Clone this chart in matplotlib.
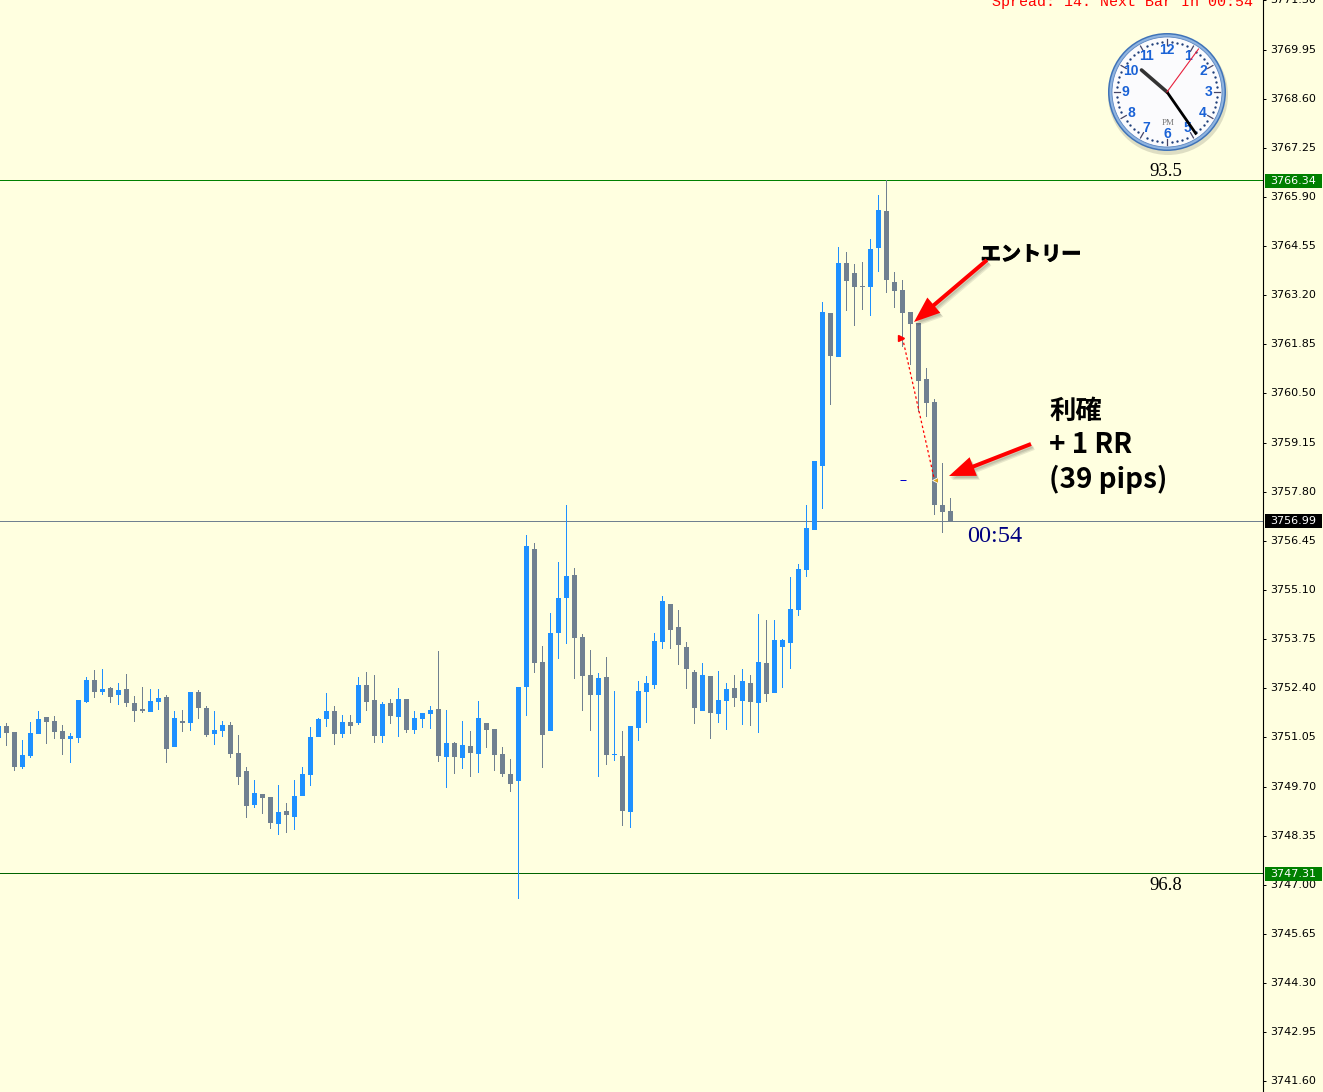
import numpy as np
import matplotlib
matplotlib.use('Agg')
import matplotlib.pyplot as plt
import matplotlib.patheffects as pe
from matplotlib.patches import Circle, Polygon, Rectangle
from matplotlib.transforms import blended_transform_factory, ScaledTranslation

plt.rcParams['font.family'] = ['Noto Sans CJK JP', 'DejaVu Sans']

# ohlc, oldest candle first
highs = [3751.36, 3751.44, 3751.20, 3750.98, 3751.47, 3751.77, 3751.61, 3751.64, 3751.39, 3751.17,
         3752.08, 3752.71, 3752.90, 3752.93, 3752.43, 3752.54, 3752.79, 3752.19, 3752.43, 3752.38,
         3752.38, 3752.21, 3751.77, 3751.80, 3752.30, 3752.35, 3751.91, 3751.77, 3751.50, 3751.47,
         3751.11, 3750.23, 3749.88, 3749.49, 3749.42, 3749.75, 3749.25, 3749.88, 3750.24, 3751.34,
         3751.59, 3752.27, 3751.92, 3751.67, 3751.67, 3752.71, 3752.85, 3752.77, 3752.03, 3752.11,
         3752.41, 3752.11, 3751.78, 3751.72, 3751.92, 3753.43, 3751.81, 3750.93, 3751.50, 3751.23,
         3752.05, 3751.45, 3751.28, 3750.79, 3750.46, 3752.44, 3756.61, 3756.39, 3753.56, 3754.46,
         3755.87, 3757.43, 3755.70, 3753.89, 3753.45, 3752.82, 3753.26, 3752.32, 3751.22, 3751.36,
         3752.60, 3752.73, 3753.92, 3754.93, 3754.71, 3754.55, 3753.67, 3752.90, 3753.09, 3752.73,
         3752.87, 3752.54, 3752.76, 3752.93, 3752.76, 3754.44, 3754.27, 3754.27, 3753.75, 3755.45,
         3755.81, 3757.43, 3758.64, 3763.01, 3762.71, 3764.52, 3764.38, 3764.05, 3764.11, 3764.74,
         3765.95, 3766.36, 3763.83, 3763.61, 3762.74, 3762.43, 3761.20, 3760.34, 3758.59, 3757.62]
lows = [3751.03, 3750.81, 3750.12, 3750.18, 3750.48, 3751.14, 3750.87, 3751.00, 3750.56, 3750.34,
        3750.89, 3751.99, 3752.13, 3752.21, 3751.99, 3751.94, 3751.88, 3751.47, 3751.72, 3751.75,
        3751.80, 3750.34, 3750.78, 3751.20, 3751.22, 3751.55, 3751.06, 3750.84, 3751.06, 3750.48,
        3749.74, 3748.83, 3749.11, 3748.94, 3748.54, 3748.37, 3748.43, 3748.51, 3749.44, 3749.72,
        3751.06, 3751.34, 3750.84, 3751.04, 3751.15, 3751.39, 3751.78, 3750.90, 3750.90, 3751.42,
        3751.06, 3751.17, 3751.15, 3751.31, 3751.28, 3750.38, 3749.66, 3750.05, 3750.19, 3749.97,
        3750.08, 3750.76, 3750.13, 3749.97, 3749.55, 3746.61, 3751.63, 3752.82, 3750.21, 3751.22,
        3753.20, 3753.61, 3752.65, 3751.77, 3751.22, 3749.96, 3750.29, 3750.40, 3748.61, 3748.56,
        3750.95, 3751.44, 3752.38, 3753.48, 3753.48, 3753.04, 3752.38, 3751.41, 3751.77, 3751.00,
        3751.44, 3751.25, 3751.88, 3751.39, 3751.36, 3751.17, 3752.02, 3752.27, 3752.40, 3752.93,
        3754.38, 3755.45, 3756.74, 3757.32, 3760.18, 3761.50, 3762.76, 3762.35, 3762.79, 3762.63,
        3763.83, 3763.26, 3762.85, 3761.77, 3761.28, 3759.99, 3759.85, 3757.16, 3756.66, 3757.01]
opens = [3751.03, 3751.36, 3751.20, 3750.23, 3750.54, 3751.14, 3751.61, 3751.50, 3751.22, 3751.00,
         3751.03, 3752.02, 3752.63, 3752.30, 3752.41, 3752.21, 3752.38, 3751.99, 3751.83, 3751.75,
         3752.02, 3752.16, 3750.78, 3751.50, 3751.44, 3752.30, 3751.86, 3751.14, 3751.22, 3751.39,
         3750.62, 3750.12, 3749.19, 3749.49, 3749.42, 3748.67, 3749.03, 3748.87, 3749.44, 3750.02,
         3751.06, 3751.56, 3751.78, 3751.15, 3751.48, 3751.45, 3752.49, 3752.08, 3751.09, 3752.00,
         3751.61, 3752.11, 3751.26, 3751.56, 3751.70, 3751.83, 3750.51, 3750.90, 3750.49, 3750.82,
         3750.60, 3751.45, 3751.28, 3750.60, 3750.05, 3749.86, 3752.43, 3756.22, 3753.12, 3751.22,
         3753.92, 3754.88, 3755.51, 3753.81, 3752.76, 3752.21, 3752.71, 3750.56, 3750.54, 3749.00,
         3751.30, 3752.29, 3752.49, 3753.67, 3754.71, 3754.08, 3753.53, 3752.84, 3751.77, 3752.73,
         3751.69, 3752.05, 3752.40, 3752.05, 3752.54, 3751.99, 3753.09, 3752.27, 3753.53, 3753.64,
         3754.55, 3755.65, 3756.74, 3758.50, 3762.71, 3761.50, 3764.08, 3763.81, 3763.45, 3763.42,
         3764.49, 3765.51, 3763.56, 3763.34, 3762.74, 3762.43, 3760.89, 3760.26, 3757.43, 3757.27]
closes = [3751.36, 3751.17, 3750.23, 3750.56, 3751.17, 3751.55, 3751.47, 3751.20, 3751.00, 3751.09,
          3752.08, 3752.63, 3752.30, 3752.38, 3752.16, 3752.35, 3751.99, 3751.77, 3751.77, 3752.05,
          3752.13, 3750.73, 3751.58, 3751.44, 3752.30, 3751.86, 3751.11, 3751.25, 3751.39, 3750.59,
          3749.96, 3749.16, 3749.52, 3749.38, 3748.70, 3749.00, 3748.92, 3749.44, 3750.05, 3751.06,
          3751.56, 3751.78, 3751.15, 3751.48, 3751.37, 3752.49, 3752.03, 3751.09, 3751.97, 3751.64,
          3752.11, 3751.26, 3751.59, 3751.72, 3751.81, 3750.54, 3750.90, 3750.51, 3750.84, 3750.62,
          3751.59, 3751.26, 3750.57, 3750.05, 3749.77, 3752.44, 3756.31, 3753.09, 3751.11, 3753.92,
          3754.88, 3755.48, 3753.78, 3752.73, 3752.21, 3752.68, 3750.56, 3750.59, 3749.02, 3751.36,
          3752.32, 3752.54, 3753.70, 3754.79, 3754.00, 3753.59, 3752.93, 3751.85, 3752.76, 3751.72,
          3752.07, 3752.38, 3752.13, 3752.60, 3752.02, 3753.12, 3752.24, 3753.72, 3753.72, 3754.57,
          3755.67, 3756.80, 3758.64, 3762.74, 3761.53, 3764.08, 3763.59, 3763.42, 3763.42, 3764.47,
          3765.54, 3763.61, 3763.31, 3762.71, 3762.41, 3760.84, 3760.23, 3757.43, 3757.24, 3757.01]

price_ticks = [3771.30, 3769.95, 3768.60, 3767.25, 3765.90, 3764.55, 3763.20, 3761.85, 3760.50, 3759.15,
               3757.80, 3756.45, 3755.10, 3753.75, 3752.40, 3751.05, 3749.70, 3748.35, 3747.00, 3745.65,
               3744.30, 3742.95, 3741.60]
upper_level = 3766.34
lower_level = 3747.31
bid_price = 3756.99
upper_pct = '93.5'
lower_pct = '96.8'
trade_index = [113, 117]
trade_price = [3762.03, 3758.12]
stop_dash = 3758.12

BG = '#FFFFE0'
UP = '#1E90FF'
DOWN = '#708090'
PX = 0.72  # one pixel in points at dpi 100

W, H = 1323, 1092
fig = plt.figure(figsize=(W/100, H/100), dpi=100, facecolor=BG)
ax = fig.add_axes([0, 0, 1263/W, 1])
ax.set_facecolor(BG)

# 8 px per candle, first candle centred at -1.5 px
xmin, xmax = 1.5/8, (1263+1.5)/8
ax.set_xlim(xmin, xmax)
ax.set_ylim(3741.31, 3771.31)

idx = np.arange(len(highs))
o = np.array(opens)
c = np.array(closes)
hi = np.array(highs)
lo = np.array(lows)
colors = [UP if c[i] > o[i] else DOWN for i in idx]
# wicks as 1 px bars so they stay crisp and keep their colour
ax.bar(idx, hi-lo, bottom=lo, width=1/8, color=colors, linewidth=0, zorder=2)
ax.bar(idx, np.abs(c-o), bottom=np.minimum(o, c), width=5/8, color=colors, linewidth=0, zorder=3)

one_px = 1/36.4
ax.barh(upper_level, xmax-xmin, left=xmin, height=one_px, color='#008000', linewidth=0, zorder=1)
ax.barh(lower_level, xmax-xmin, left=xmin, height=one_px, color='#006400', linewidth=0, zorder=1)
ax.barh(bid_price, xmax-xmin, left=xmin, height=one_px, color=DOWN, linewidth=0, zorder=1)

# closed trade
ax.plot(trade_index, trade_price, color='red', lw=0.9, ls=(0, (2, 2)), zorder=5)
ax.plot(trade_index[0]-0.2, trade_price[0], marker='>', color='red', ms=4, zorder=6)
ax.plot(trade_index[1], trade_price[1], marker='<', color='#DAA520', mec='white', mew=0.6, ms=5, zorder=6)
ax.plot([trade_index[0]], [stop_dash], marker='_', color='#0000CD', ms=5, mew=PX, zorder=6)

# axis on the right
ax.spines[['left', 'top', 'bottom']].set_visible(False)
ax.spines['right'].set_linewidth(0.8)
ax.set_xticks([])
ax.yaxis.tick_right()
ax.set_yticks(price_ticks)
ax.set_yticklabels(['%.2f' % p for p in price_ticks], fontsize=8, family='DejaVu Sans')
ax.tick_params(axis='y', length=2.2, width=PX, pad=2.7, color='black')
nudge = ScaledTranslation(0, 1/100, fig.dpi_scale_trans)
for lab in ax.get_yticklabels():
    lab.set_transform(lab.get_transform()+nudge)

# overlay in pixel coordinates for the hand drawn stuff
ov = fig.add_axes([0, 0, 1, 1])
ov.set_xlim(0, W)
ov.set_ylim(H, 0)
ov.axis('off')
ov.patch.set_alpha(0)

tag_trans = blended_transform_factory(ov.transData, ax.transData)

def price_tag(price, fc):
    ov.add_patch(Rectangle((1265, price-7/36.4), 57, 14/36.4, transform=tag_trans, fc=fc, ec='none', zorder=4))
    ov.text(1270, price, '%.2f' % price, transform=tag_trans, ha='left', va='center', fontsize=8,
            family='DejaVu Sans', color='white', zorder=5)

price_tag(upper_level, '#008000')
price_tag(lower_level, '#008000')
price_tag(bid_price, 'black')

ov.text(1253, 2, 'Spread: 14. Next Bar In 00:54', color='red', family='Liberation Mono', fontsize=10.85,
        ha='right', va='center')
ov.text(994.5, 536, '00:54', color='#000080', family='Liberation Serif', fontsize=17.5, ha='center', va='center')
ov.text(1166, 171, upper_pct, color='black', family='Liberation Serif', fontsize=13.5, ha='center', va='center')
ov.text(1166, 886, lower_pct, color='black', family='Liberation Serif', fontsize=13.5, ha='center', va='center')

ov.text(1031, 254, 'エントリー', color='black', fontsize=14.5, weight='bold', ha='center', va='center',
        path_effects=[pe.withStroke(linewidth=0.7, foreground='black')])
ov.text(1049, 411, '利確', color='black', fontsize=19, weight='bold', ha='left', va='center')
ov.text(1049, 445, '+ 1 RR', color='black', fontsize=20, weight='bold', ha='left', va='center')
ov.text(1049, 479, '(39 pips)', color='black', fontsize=20, weight='bold', ha='left', va='center')

def red_arrow(x0, y0, x1, y1, shaft, head_w, head_l):
    d = np.array([x1-x0, y1-y0], float)
    L = np.hypot(*d)
    u = d/L
    n = np.array([-u[1], u[0]])
    tip = np.array([x1, y1], float)
    base = tip - u*head_l
    start = np.array([x0, y0], float)
    pts = np.array([start+n*shaft/2, base+n*shaft/2, base+n*head_w/2, tip, base-n*head_w/2, base-n*shaft/2, start-n*shaft/2])
    # soft shadow
    for off in [(1, 2), (2, 3), (3, 4)]:
        ov.add_patch(Polygon(pts+off, closed=True, fc='black', ec='none', alpha=0.09, zorder=7))
    ov.add_patch(Polygon(pts, closed=True, fc='#FF0000', ec='none', zorder=8))

red_arrow(987, 260, 914, 322, 4, 20, 26)
red_arrow(1031, 444, 949, 476, 4, 20, 26)

# clock
cx, cy = 1167, 92
ov.add_patch(Circle((cx+1, cy+3), 60, fc='black', alpha=0.13, ec='none', zorder=3))
ov.add_patch(Circle((cx, cy), 59, fc='#3F73B8', ec='none', zorder=4))
ov.add_patch(Circle((cx, cy), 57.5, fc='#8FB4E0', ec='none', zorder=4))
ov.add_patch(Circle((cx, cy), 55, fc='#FBFBFD', ec='#5C86C0', lw=0.6, zorder=4))
for m in range(60):
    a = np.radians(m*6)
    if m % 5 == 0:
        ov.plot([cx+47*np.sin(a), cx+53*np.sin(a)], [cy-47*np.cos(a), cy-53*np.cos(a)], color='#444466', lw=0.9, zorder=5)
    else:
        ov.plot(cx+50*np.sin(a), cy-50*np.cos(a), 'o', color='#1F3F7A', ms=1.7, mew=0, zorder=5)
for h in range(1, 13):
    a = np.radians(h*30)
    ov.text(cx+41.5*np.sin(a), cy-41.5*np.cos(a), str(h), color='#1A62D6', fontsize=10, weight='bold', family='Liberation Sans',
            ha='center', va='center', zorder=5)
ov.text(cx+1, cy+31, 'PM', color='#777777', fontsize=6.5, family='Liberation Serif', ha='center', va='center', zorder=5)
ov.plot([cx, cx-25.5], [cy, cy-22], color='#333333', lw=2.6, solid_capstyle='round', zorder=6)
ov.plot([cx, cx+29.5], [cy, cy+42.5], color='black', lw=2.0, solid_capstyle='butt', zorder=6)
ov.plot([cx, cx+31.5], [cy, cy-43], color='#E8203C', lw=0.8, zorder=7)

fig.savefig('out.png', dpi=100, facecolor=BG)
